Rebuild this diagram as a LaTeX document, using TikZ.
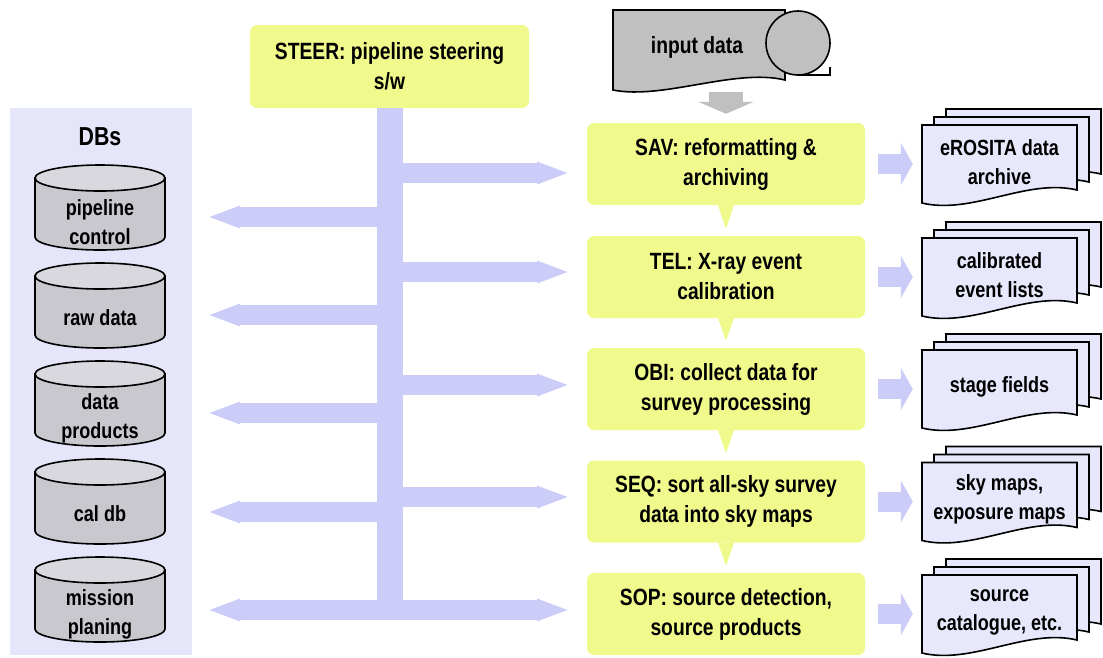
\documentclass[tikz,border=0pt]{standalone}
\usepackage{fontspec}
\setmainfont{Liberation Sans}[FakeStretch=0.82]
\usepackage{tikz}
\usetikzlibrary{arrows.meta, positioning, calc}
\definecolor{procyellow}{RGB}{240,250,140}
\definecolor{busblue}{RGB}{204,204,248}
\definecolor{dbpanel}{RGB}{230,230,250}
\definecolor{dbgray}{RGB}{200,200,206}
\definecolor{dbtopgray}{RGB}{216,216,222}
\definecolor{docfill}{RGB}{232,232,252}
\definecolor{inputgray}{RGB}{192,192,192}
\newcommand{\boxfont}{\fontsize{23.5}{30}\selectfont\bfseries}
\newcommand{\docfont}{\fontsize{22}{29}\selectfont\bfseries}
% cylinder, top edge at y = #1
\newcommand{\dbcyl}[1]{%
  \filldraw[dbbody] (35,{#1+13}) -- (35,{#1+72}) arc[start angle=180, end angle=0, x radius=65, y radius=13] -- (165,{#1+13}) -- cycle;
  \filldraw[dbtop] (100,{#1+13}) ellipse[x radius=65, y radius=13];}
% stack of three pages, front page top left at (#1,#2)
\newcommand{\docstack}[2]{%
  \foreach \k in {2,1,0} {
    \filldraw[docpage] ({#1+12*\k},{#2-8*\k}) -- ++(155,0) -- ++(0,65) .. controls +(-50,-12) and +(50,12) .. ++(-155,13) -- cycle;
  }}

\begin{document}
\begin{tikzpicture}[
    x=1pt, y=-1pt,
    proc/.style={fill=procyellow, rounded corners=7pt, minimum width=278pt, minimum height=82pt, align=center, font=\boxfont},
    doctext/.style={minimum width=155pt, minimum height=60pt, align=center, font=\docfont},
    dbtext/.style={align=center, font=\docfont},
    dbbody/.style={fill=dbgray, draw=black, line width=1.6pt},
    dbtop/.style={fill=dbtopgray, draw=black, line width=1.6pt},
    docpage/.style={fill=docfill, draw=black, line width=1.6pt},
    busline/.style={draw=busblue, line width=26pt},
    busarrow/.style={draw=busblue, line width=20pt, -{Triangle[length=33pt, width=20pt]}},
    outarrow/.style={draw=busblue, line width=20pt, -{Triangle[length=12pt, width=42pt]}, shorten <=13pt, shorten >=9pt},
    inarrow/.style={draw=inputgray, line width=34pt, -{Triangle[length=12pt, width=55pt]}},
]
    \useasboundingbox (0,0) rectangle (1103,657);

    % DB panel
    \fill[dbpanel] (10,108) rectangle (192,655);
    \node[font=\fontsize{26}{30}\selectfont\bfseries] (dbs) at (100,137) {DBs};

    \dbcyl{165}
    \node[dbtext] (ctrl) at (100,222) {pipeline\\control};
    \dbcyl{263}
    \node[dbtext] (raw) at (100,318) {raw data};
    \dbcyl{361}
    \node[dbtext] (prod) at (100,418) {data\\products};
    \dbcyl{459}
    \node[dbtext] (cal) at (100,514) {cal db};
    \dbcyl{557}
    \node[dbtext] (plan) at (100,614) {mission\\planing};

    % Steering
    \node[proc, minimum width=279pt, minimum height=83pt] (steer) at (389.5,66.5) {STEER: pipeline steering\\s/w};
    \coordinate (barfoot) at (0,620);
    \draw[busline] (steer.south) -- (steer.south |- barfoot);

    \coordinate (dbin1) at (207,217);
    \coordinate (dbin2) at (207,315);
    \coordinate (dbin3) at (207,413);
    \coordinate (dbin4) at (207,512);
    \coordinate (dbin5) at (207,610);
    \coordinate (pin1) at (570,173);
    \coordinate (pin2) at (570,272);
    \coordinate (pin3) at (570,385);
    \coordinate (pin4) at (570,497);
    \coordinate (pin5) at (570,610);
    \draw[busarrow] (steer.south |- dbin1) -- (dbin1);
    \draw[busarrow] (steer.south |- dbin2) -- (dbin2);
    \draw[busarrow] (steer.south |- dbin3) -- (dbin3);
    \draw[busarrow] (steer.south |- dbin4) -- (dbin4);
    \draw[busarrow] (steer.south |- pin1) -- (pin1);
    \draw[busarrow] (steer.south |- pin2) -- (pin2);
    \draw[busarrow] (steer.south |- pin3) -- (pin3);
    \draw[busarrow] (steer.south |- pin4) -- (pin4);
    \draw[busarrow, {Triangle[length=33pt, width=20pt]}-{Triangle[length=33pt, width=20pt]}] (dbin5) -- (pin5);

    % Input data
    \filldraw[fill=inputgray, draw=black, line width=1.6pt] (613,10) -- (785,10) -- (785,80) .. controls +(-50,-12) and +(50,10) .. (613,90) -- cycle;
    \filldraw[fill=inputgray, draw=black, line width=1.6pt] (798,43) circle[radius=32];
    \draw[line width=1.6pt] (798,75) -- (830,75) -- (830,67);
    \node[font=\boxfont] (input) at (697,47) {input data};

    % Processing chain
    \node[proc] (sav) at (726,164) {SAV: reformatting \&\\archiving};
    \node[proc] (tel) at (726,277) {TEL: X-ray event\\calibration};
    \node[proc] (obi) at (726,389) {OBI: collect data for\\survey processing};
    \node[proc] (seq) at (726,501.5) {SEQ: sort all-sky survey\\data into sky maps};
    \node[proc] (sop) at (726,614) {SOP: source detection,\\source products};

    \coordinate (intail) at (726,92);
    \draw[inarrow, shorten >=9pt] (intail) -- (sav.north);

    \fill[procyellow] ($(sav.south)+(-8,0)$) -- ($(sav.south)+(8,0)$) -- ($(tel.north)+(0,-7)$) -- cycle;
    \fill[procyellow] ($(tel.south)+(-8,0)$) -- ($(tel.south)+(8,0)$) -- ($(obi.north)+(0,-7)$) -- cycle;
    \fill[procyellow] ($(obi.south)+(-8,0)$) -- ($(obi.south)+(8,0)$) -- ($(seq.north)+(0,-7)$) -- cycle;
    \fill[procyellow] ($(seq.south)+(-8,0)$) -- ($(seq.south)+(8,0)$) -- ($(sop.north)+(0,-7)$) -- cycle;

    % Products
    \docstack{922}{125}
    \node[doctext] (arch) at (999.5,162) {eROSITA data\\archive};
    \docstack{922}{238}
    \node[doctext] (evts) at (999.5,275) {calibrated\\event lists};
    \docstack{922}{350}
    \node[doctext] (fields) at (999.5,387) {stage fields};
    \docstack{922}{462.5}
    \node[doctext] (maps) at (999.5,499.5) {sky maps,\\exposure maps};
    \docstack{922}{575}
    \node[doctext] (cat) at (999.5,612) {source\\catalogue, etc.};

    \draw[outarrow] (sav) -- (sav -| arch.west);
    \draw[outarrow] (tel) -- (tel -| evts.west);
    \draw[outarrow] (obi) -- (obi -| fields.west);
    \draw[outarrow] (seq) -- (seq -| maps.west);
    \draw[outarrow] (sop) -- (sop -| cat.west);
\end{tikzpicture}
\end{document}
